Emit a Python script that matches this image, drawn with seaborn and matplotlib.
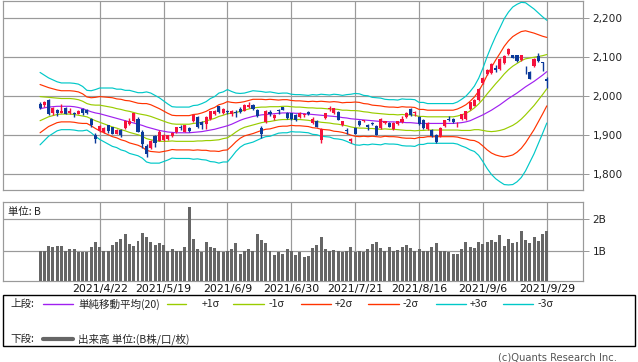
import numpy as np
import pandas as pd
import matplotlib
matplotlib.use("Agg")
import matplotlib.pyplot as plt
from matplotlib.patches import Rectangle
from matplotlib.lines import Line2D
import seaborn as sns

# ---------------- data ----------------
date_labels = ["2021/4/22", "2021/5/19", "2021/6/9", "2021/6/30",
               "2021/7/21", "2021/8/16", "2021/9/6", "2021/9/29"]
date_label_idx = [14, 29, 44, 59, 74, 89, 104, 119]

open_ = [1980, 1977, 1990, 1958, 1964, 1958, 1970, 1958, 1957, 1954,
         1966, 1964, 1942, 1900, 1911, 1908, 1925, 1920, 1904, 1912,
         1918, 1929, 1935, 1941, 1909, 1873, 1867, 1898, 1886, 1888,
         1890, 1898, 1907, 1921, 1909, 1918, 1935, 1946, 1933, 1929,
         1941, 1953, 1974, 1958, 1961, 1953, 1960, 1968, 1963, 1973,
         1977, 1965, 1919, 1933, 1960, 1943, 1964, 1971, 1957, 1956,
         1952, 1947, 1951, 1960, 1931, 1937, 1888, 1943, 1966, 1956,
         1960, 1926, 1912, 1886, 1918, 1936, 1936, 1925, 1931, 1924,
         1918, 1930, 1931, 1916, 1929, 1934, 1947, 1966, 1956, 1947,
         1938, 1916, 1914, 1901, 1898, 1924, 1941, 1941, 1930, 1941,
         1941, 1966, 1976, 1990, 2034, 2056, 2059, 2072, 2069, 2084,
         2108, 2105, 2105, 2093, 2068, 2062, 2078, 2102, 2087, 2043]
high = [1984, 1988, 1992, 1971, 1966, 1980, 1972, 1970, 1960, 1965,
        1969, 1967, 1944, 1905, 1926, 1920, 1927, 1922, 1916, 1915,
        1940, 1943, 1958, 1946, 1913, 1878, 1888, 1901, 1914, 1902,
        1901, 1908, 1922, 1925, 1927, 1922, 1953, 1950, 1936, 1950,
        1963, 1965, 1976, 1969, 1964, 1964, 1965, 1972, 1980, 1986,
        1979, 1967, 1923, 1964, 1965, 1954, 1967, 1972, 1959, 1958,
        1955, 1960, 1956, 1962, 1947, 1939, 1918, 1957, 1975, 1970,
        1962, 1937, 1918, 1892, 1920, 1938, 1940, 1929, 1934, 1926,
        1944, 1937, 1933, 1933, 1937, 1950, 1960, 1970, 1962, 1950,
        1941, 1934, 1916, 1903, 1920, 1940, 1950, 1944, 1934, 1955,
        1963, 1986, 1993, 2022, 2050, 2070, 2084, 2080, 2097, 2105,
        2123, 2107, 2107, 2107, 2078, 2064, 2097, 2112, 2088, 2050]
low = [1967, 1973, 1952, 1951, 1949, 1956, 1953, 1954, 1946, 1953,
       1952, 1954, 1922, 1881, 1909, 1905, 1906, 1903, 1902, 1895,
       1916, 1927, 1933, 1907, 1866, 1845, 1865, 1870, 1884, 1886,
       1888, 1896, 1905, 1914, 1907, 1907, 1933, 1918, 1915, 1915,
       1939, 1951, 1957, 1954, 1954, 1948, 1947, 1957, 1961, 1970,
       1964, 1946, 1892, 1931, 1950, 1940, 1955, 1964, 1941, 1940,
       1935, 1945, 1946, 1951, 1928, 1920, 1879, 1941, 1962, 1954,
       1938, 1924, 1903, 1881, 1902, 1924, 1933, 1914, 1926, 1899,
       1916, 1928, 1920, 1914, 1927, 1932, 1945, 1950, 1950, 1926,
       1916, 1914, 1895, 1879, 1896, 1922, 1937, 1932, 1920, 1939,
       1939, 1964, 1974, 1988, 2032, 2054, 2057, 2062, 2067, 2082,
       2106, 2097, 2087, 2091, 2058, 2043, 2076, 2089, 2065, 2022]
close = [1970, 1986, 1954, 1970, 1956, 1963, 1954, 1963, 1955, 1963,
         1958, 1958, 1926, 1890, 1924, 1917, 1910, 1904, 1914, 1899,
         1935, 1937, 1956, 1909, 1878, 1852, 1886, 1880, 1907, 1900,
         1900, 1906, 1920, 1920, 1925, 1911, 1951, 1922, 1927, 1946,
         1961, 1963, 1959, 1966, 1959, 1962, 1958, 1959, 1978, 1978,
         1966, 1948, 1903, 1962, 1953, 1952, 1962, 1965, 1943, 1942,
         1940, 1958, 1953, 1953, 1941, 1922, 1915, 1956, 1969, 1969,
         1939, 1935, 1910, 1889, 1903, 1925, 1938, 1920, 1929, 1901,
         1942, 1935, 1922, 1931, 1935, 1942, 1958, 1952, 1959, 1928,
         1918, 1931, 1897, 1883, 1918, 1938, 1939, 1933, 1932, 1953,
         1961, 1984, 1991, 2019, 2047, 2067, 2082, 2068, 2095, 2103,
         2122, 2099, 2091, 2105, 2066, 2045, 2095, 2091, 2085, 2039]

ma20 = [1968, 1970, 1972, 1973, 1974, 1974, 1974, 1974, 1973, 1971,
        1968, 1964, 1960, 1957, 1955, 1952, 1949, 1946, 1943, 1940,
        1937, 1934, 1931, 1928, 1925, 1921, 1918, 1915, 1912, 1910,
        1908, 1907, 1906, 1906, 1906, 1906, 1907, 1908, 1909, 1911,
        1913, 1915, 1918, 1921, 1924, 1928, 1933, 1938, 1942, 1945,
        1948, 1950, 1952, 1953, 1954, 1955, 1956, 1957, 1957, 1957,
        1956, 1956, 1955, 1954, 1953, 1952, 1951, 1950, 1949, 1948,
        1947, 1945, 1944, 1942, 1941, 1940, 1939, 1938, 1937, 1936,
        1935, 1935, 1934, 1934, 1933, 1933, 1932, 1932, 1931, 1930,
        1930, 1930, 1930, 1930, 1930, 1930, 1930, 1930, 1931, 1932,
        1934, 1937, 1942, 1947, 1952, 1958, 1964, 1971, 1978, 1986,
        1994, 2001, 2008, 2016, 2024, 2031, 2038, 2046, 2054, 2063]
sd20 = [31, 28, 25, 23, 21, 20, 20, 20, 20, 20,
        19, 17, 18, 20, 22, 23, 24, 25, 25, 26,
        26, 27, 27, 27, 28, 30, 30, 29, 28, 26,
        24, 22, 22, 22, 22, 22, 23, 23, 24, 25,
        27, 28, 30, 30, 31, 28, 25, 23, 22, 22,
        22, 21, 20, 19, 19, 18, 17, 17, 17, 16,
        16, 16, 16, 16, 17, 17, 18, 18, 18, 19,
        19, 19, 20, 21, 22, 22, 21, 21, 20, 20,
        20, 19, 19, 19, 19, 20, 20, 20, 20, 18,
        18, 17, 17, 17, 17, 17, 17, 17, 18, 20,
        22, 25, 28, 33, 40, 48, 55, 61, 66, 71,
        74, 76, 76, 75, 72, 67, 62, 56, 50, 44]

volume_b = [1.00, 1.00, 1.15, 1.12, 1.15, 1.15, 1.00, 1.05, 1.05, 0.97,
            0.94, 0.96, 1.12, 1.28, 1.12, 1.00, 1.00, 1.18, 1.28, 1.37,
            1.54, 1.22, 1.15, 1.31, 1.56, 1.44, 1.28, 1.18, 1.24, 1.18,
            1.00, 1.05, 1.00, 1.00, 1.12, 2.40, 1.37, 1.05, 0.94, 1.28,
            1.12, 1.09, 1.00, 0.96, 1.00, 1.05, 1.24, 0.90, 1.00, 1.05,
            1.00, 1.54, 1.34, 1.24, 1.00, 0.87, 0.94, 0.90, 1.05, 1.00,
            0.87, 0.94, 0.81, 0.84, 1.09, 1.18, 1.44, 1.05, 1.00, 1.02,
            1.00, 0.97, 1.00, 1.12, 0.97, 1.00, 0.97, 1.05, 1.22, 1.28,
            1.09, 1.00, 1.12, 1.00, 1.02, 1.12, 1.18, 1.09, 1.00, 1.05,
            1.00, 1.00, 1.12, 1.24, 1.00, 1.00, 0.96, 0.90, 0.90, 1.05,
            1.28, 1.12, 1.09, 1.28, 1.22, 1.28, 1.34, 1.28, 1.50, 1.15,
            1.37, 1.24, 1.28, 1.63, 1.34, 1.24, 1.44, 1.31, 1.53, 1.63]

price_ticks = [1800, 1900, 2000, 2100, 2200]
volume_ticks = [1, 2]
volume_tick_labels = ["1B", "2B"]

legend_upper = ["+1σ", "-1σ", "+2σ", "-2σ", "+3σ", "-3σ"]

# ---------------- styling ----------------
W, H = 638, 362
sns.set_theme(style="white")
plt.rcParams['font.family'] = ['DejaVu Sans', 'Noto Sans CJK JP']
CJK = ['Noto Sans CJK JP', 'DejaVu Sans']

GRID = "#9a9a9a"
UP = "#f5123c"
DOWN = "#0b3a9a"
C_MA = "#a020f0"
C_1 = "#99cc00"
C_2 = "#ff3300"
C_3 = "#00c8c8"
C_VOL = "#666666"
PX = 0.72  # one pixel in points
LW = 0.85


def fx(x):
    return x / W


def fy(y):
    return 1 - y / H


df = pd.DataFrame({"i": np.arange(len(close)), "open": open_, "high": high,
                   "low": low, "close": close, "ma": ma20, "sd": sd20,
                   "vol": volume_b})

fig = plt.figure(figsize=(W / 100, H / 100), dpi=100)
ax = fig.add_axes([fx(3), fy(190), fx(583) - fx(3), fy(1) - fy(190)])
axv = fig.add_axes([fx(3), fy(281), fx(583) - fx(3), fy(202) - fy(281)])

xlim = (-8.7, 127.5)

# ---- price panel ----
band_specs = [(3, C_3), (-3, C_3), (2, C_2), (-2, C_2), (1, C_1), (-1, C_1)]
for k, col in band_specs:
    sns.lineplot(x=df["i"], y=df["ma"] + k * df["sd"], ax=ax, color=col,
                 lw=LW, legend=False, zorder=3)
sns.lineplot(x=df["i"], y=df["ma"], ax=ax, color=C_MA, lw=LW, legend=False,
             zorder=3)

o = df["open"].to_numpy(float)
c = df["close"].to_numpy(float)
h = df["high"].to_numpy(float)
l = df["low"].to_numpy(float)
cols = np.where(c >= o, UP, DOWN)
ax.vlines(df["i"], l, h, colors=cols, lw=1.0, zorder=4)
bottom = np.minimum(o, c)
height = np.maximum(np.abs(c - o), 2.0)
ax.bar(df["i"], height, bottom=bottom - (height - np.abs(c - o)) / 2,
       width=0.72, color=cols, linewidth=0, zorder=5)

ax.set_xlim(*xlim)
ax.set_ylim(1759, 2244.5)
ax.set_yticks(price_ticks)
ax.set_yticklabels([f"{v:,}" for v in price_ticks])
ax.set_xticks(date_label_idx)
ax.set_xticklabels([])
ax.set_xlabel("")
ax.set_ylabel("")

# ---- volume panel ----
sns.barplot(x=df["i"], y=df["vol"], ax=axv, color=C_VOL, saturation=1,
            native_scale=True, width=0.7, linewidth=0, zorder=3)
axv.set_xlim(*xlim)
axv.set_ylim(0.03, 2.55)
axv.set_yticks(volume_ticks)
axv.set_yticklabels(volume_tick_labels)
axv.set_xticks(date_label_idx)
axv.set_xticklabels(date_labels)
axv.set_xlabel("")
axv.set_ylabel("")
axv.text(0.009, 0.88, "単位: B", transform=axv.transAxes,
         fontsize=7.5, family=CJK, va="center", ha="left", color="#222222")

for a in (ax, axv):
    a.grid(True, color=GRID, lw=PX * 1.2, zorder=0)
    a.set_axisbelow(True)
    for s in a.spines.values():
        s.set_color(GRID)
        s.set_linewidth(PX * 1.2)
    a.yaxis.tick_right()
    a.tick_params(axis="y", which="both", length=4, width=PX, color=GRID,
                  labelsize=7.6, pad=3, labelcolor="#222222", left=False,
                  right=True)
    a.tick_params(axis="x", length=0, labelsize=7.9, pad=2.5,
                  labelcolor="#111111")

# ---- legend box ----
fig.add_artist(Rectangle((fx(3), fy(346)), fx(635) - fx(3), fy(295) - fy(346),
                         transform=fig.transFigure, fill=False,
                         edgecolor="black", lw=1.0))
r1, r2 = 304, 339
fs = 7.6
fig.text(fx(10), fy(r1), "上段:", fontsize=fs, family=CJK, va="center",
         ha="left")
fig.add_artist(Line2D([fx(43), fx(73)], [fy(r1), fy(r1)], color=C_MA,
                      lw=1.0, transform=fig.transFigure))
fig.text(fx(78), fy(r1), "単純移動平均(20)", fontsize=fs, family=CJK,
         va="center", ha="left")
legend_lines = [(167, 186, C_1), (233, 264, C_1), (301, 331, C_2),
                (368, 399, C_2), (436, 466, C_3), (503, 533, C_3)]
legend_text_x = [202, 269, 335, 403, 470, 538]
for (x0, x1, col), tx, lab in zip(legend_lines, legend_text_x, legend_upper):
    fig.add_artist(Line2D([fx(x0), fx(x1)], [fy(r1), fy(r1)], color=col,
                          lw=1.0, transform=fig.transFigure))
    fig.text(fx(tx), fy(r1), lab, fontsize=fs, family=CJK, va="center",
             ha="left")
fig.text(fx(10), fy(r2), "下段:", fontsize=fs, family=CJK, va="center",
         ha="left")
fig.add_artist(Line2D([fx(43), fx(73)], [fy(r2), fy(r2)], color=C_VOL,
                      lw=3.0, transform=fig.transFigure))
fig.text(fx(78), fy(r2), "出来高 単位:(B株/口/枚)", fontsize=fs, family=CJK,
         va="center", ha="left")

fig.text(fx(617), fy(358), "(c)Quants Research Inc.", fontsize=7.2,
         va="center", ha="right", color="#555555")

fig.savefig("out.png", dpi=100)
